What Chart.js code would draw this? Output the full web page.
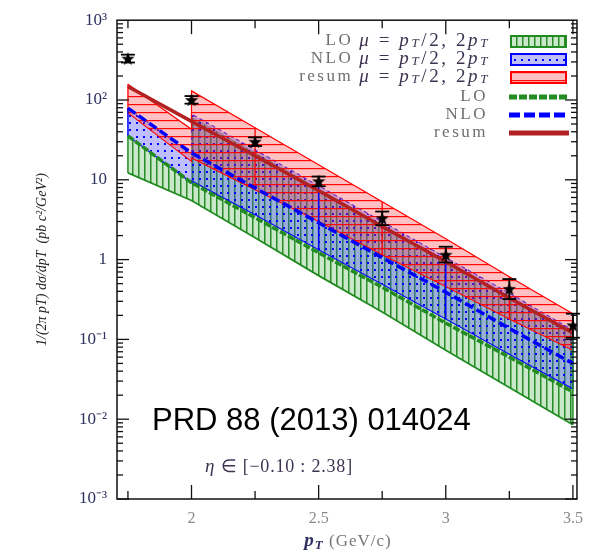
<!DOCTYPE html>
<html>
<head>
<meta charset="utf-8">
<script src="https://cdn.jsdelivr.net/npm/chart.js@4.4.0/dist/chart.umd.min.js"></script>
<style>
body { margin: 0; background: #fff; }
#wrap { width: 593px; height: 558px; }
</style>
</head>
<body>
<div id="wrap"><canvas id="chart" width="593" height="558"></canvas></div>
<script>
// bin edges of the measurement
const binX = [1.75, 2, 2.25, 2.5, 2.75, 3, 3.25, 3.5];
// band edges (2 appears twice: the bands jump there)
const bandX = [1.75, 2, 2, 2.25, 2.5, 2.75, 3, 3.25, 3.5];

// data points with errors
const dataY = [330, 100, 30, 9.6, 3.3, 1.15, 0.43, 0.15];
const dataLow = [295, 90, 26.5, 8.3, 2.7, 0.92, 0.32, 0.105];
const dataHigh = [370, 112, 34, 11, 4.0, 1.45, 0.57, 0.21];

// central curves
const loLine = [35.5, 9.2, 3.35, 1.22, 0.45, 0.16, 0.06, 0.022];
const nloLine = [79, 21.7, 7.9, 2.9, 1.06, 0.39, 0.137, 0.05];
const resumLine = [148, 54, 20, 7.3, 2.6, 0.94, 0.33, 0.12];

// scale bands mu = pT/2, 2pT
const loUp = [35.5, 9.2, 61, 21.8, 7.7, 2.7, 0.97, 0.345, 0.122];
const loDown = [12.2, 5.5, 5.5, 1.88, 0.63, 0.22, 0.073, 0.025, 0.0085];
const nloUp = [79, 21.7, 67, 23.7, 8.4, 3.0, 1.06, 0.38, 0.13];
const nloDown = [35.5, 9.2, 9.7, 3.65, 1.33, 0.49, 0.18, 0.065, 0.024];
const resumUp = [158, 43, 130, 45, 15.4, 5.3, 1.83, 0.61, 0.21];
const resumDown = [69, 17, 18.8, 7.5, 3.0, 1.15, 0.46, 0.18, 0.073];

const xTicks = [2, 2.5, 3, 3.5];
const xMinor = [1.75, 2.25, 2.75, 3.25];
const yTicks = [1e-3, 1e-2, 1e-1, 1, 10, 100, 1000];
const yTickLabels = ['10⁻³', '10⁻²', '10⁻¹', '1', '10', '10²', '10³'];

const ctx = document.getElementById('chart').getContext('2d');
const pts = (xs, ys) => xs.map((x, i) => ({ x: x, y: ys[i] }));

function makePattern(size, bg, draw) {
    const c = document.createElement('canvas');
    c.width = size;
    c.height = size;
    const g = c.getContext('2d');
    g.fillStyle = bg;
    g.fillRect(0, 0, size, size);
    draw(g);
    return ctx.createPattern(c, 'repeat');
}

const greenFill = makePattern(6, 'rgba(40,160,40,0.25)', g => {
    g.fillStyle = 'rgba(30,135,30,0.95)';
    g.fillRect(0, 0, 1.5, 6);
});
const blueFill = makePattern(7, 'rgba(60,60,255,0.33)', g => {
    g.fillStyle = '#0000ff';
    g.fillRect(3, 3, 2, 2);
});
const redFill = makePattern(8, 'rgba(255,50,50,0.3)', g => {
    g.fillStyle = 'rgba(255,0,0,0.95)';
    g.fillRect(0, 0, 8, 1.2);
});

// filled star marker
const star = (function () {
    const c = document.createElement('canvas');
    c.width = 14;
    c.height = 14;
    const g = c.getContext('2d');
    g.fillStyle = '#000';
    g.beginPath();
    for (let i = 0; i < 10; i++) {
        const r = i % 2 ? 2.9 : 7;
        const a = -Math.PI / 2 + i * Math.PI / 5;
        g.lineTo(7 + r * Math.cos(a), 7.5 + r * Math.sin(a));
    }
    g.closePath();
    g.fill();
    return c;
})();

function line(c, x1, y1, x2, y2) {
    c.beginPath();
    c.moveTo(x1, y1);
    c.lineTo(x2, y2);
    c.stroke();
}

function textWidth(c, parts) {
    let w = 0;
    parts.forEach(p => { c.font = p[1]; w += c.measureText(p[0]).width; });
    return w;
}

function runs(c, parts, xLeft, y) {
    let x = xLeft;
    parts.forEach(p => {
        c.font = p[1];
        c.fillStyle = p[2];
        c.fillText(p[0], x, y + (p[3] || 0));
        x += c.measureText(p[0]).width;
    });
}

// vertical bin edges inside the bands
const binEdges = [
    { up: 4, low: 5, idx: [0, 3, 5, 7, 8], color: '#ff0000', width: 1.3 },
    { up: 6, low: 7, idx: [0, 4, 6, 8], color: '#0000ff', width: 1.5 },
    { up: 8, low: 9, idx: [0, 8], color: '#228b22', width: 1.5 }
];

const binLinePlugin = {
    id: 'binLines',
    afterDatasetDraw(chart, args) {
        if (args.index !== 4) return;
        const c = chart.ctx;
        c.save();
        binEdges.forEach(b => {
            const up = chart.getDatasetMeta(b.up).data;
            const low = chart.getDatasetMeta(b.low).data;
            c.strokeStyle = b.color;
            c.lineWidth = b.width;
            b.idx.forEach(i => line(c, up[i].x, up[i].y, low[i].x, low[i].y));
        });
        c.restore();
    }
};

const errorBarPlugin = {
    id: 'errorBars',
    afterDatasetsDraw(chart) {
        const c = chart.ctx;
        const { x, y } = chart.scales;
        c.save();
        c.strokeStyle = '#000';
        c.lineWidth = 1.8;
        binX.forEach((v, i) => {
            const px = x.getPixelForValue(v);
            const y1 = y.getPixelForValue(dataLow[i]);
            const y2 = y.getPixelForValue(dataHigh[i]);
            line(c, px, y1, px, y2);
            line(c, px - 7, y1, px + 7, y1);
            line(c, px - 7, y2, px + 7, y2);
        });
        c.restore();
    }
};

const framePlugin = {
    id: 'frame',
    afterDraw(chart) {
        const c = chart.ctx;
        const a = chart.chartArea;
        const { x, y } = chart.scales;
        c.save();
        c.strokeStyle = '#111';
        c.lineWidth = 1.5;
        c.strokeRect(a.left, a.top, a.right - a.left, a.bottom - a.top);
        c.lineWidth = 1.3;
        xTicks.forEach(v => {
            const px = x.getPixelForValue(v);
            line(c, px, a.bottom, px, a.bottom - 14);
            line(c, px, a.top, px, a.top + 14);
        });
        xMinor.forEach(v => {
            const px = x.getPixelForValue(v);
            line(c, px, a.bottom, px, a.bottom - 8);
            line(c, px, a.top, px, a.top + 8);
        });
        for (let e = -3; e < 3; e++) {
            for (let k = 1; k < 10; k++) {
                const py = y.getPixelForValue(k * Math.pow(10, e));
                const len = k === 1 ? 12 : 6;
                line(c, a.left, py, a.left + len, py);
                line(c, a.right, py, a.right - len, py);
            }
        }

        // legend
        c.textBaseline = 'middle';
        const labelFont = "17px 'Liberation Serif'";
        const mathFont = "italic 19px 'Liberation Serif'";
        const eqFont = "19px 'Liberation Serif'";
        const subFont = "italic 13px 'Liberation Serif'";
        const gray = '#6e6e6e';
        const math = '#3d3350';
        const formula = [
            ['μ', mathFont, math], [' = ', eqFont, math], ['p', mathFont, math], ['T', subFont, math, 3],
            ['/2, 2', eqFont, math], ['p', mathFont, math], ['T', subFont, math, 3]
        ];
        const bandRows = [
            { text: 'LO', y: 41, fill: greenFill, color: '#228b22' },
            { text: 'NLO', y: 59, fill: blueFill, color: '#0000ff' },
            { text: 'resum', y: 77, fill: redFill, color: '#ff0000' }
        ];
        bandRows.forEach(r => {
            c.letterSpacing = '2.6px';
            const fw = textWidth(c, formula);
            runs(c, formula, 490 - fw, r.y);
            c.letterSpacing = '2.5px';
            const lw = textWidth(c, [[r.text, labelFont]]);
            runs(c, [[r.text, labelFont, gray]], 490 - fw - 6 - lw, r.y);
            c.fillStyle = '#fff';
            c.fillRect(511, r.y - 5, 55, 11);
            c.fillStyle = r.fill;
            c.fillRect(511, r.y - 5, 55, 11);
            c.strokeStyle = r.color;
            c.lineWidth = 2;
            c.strokeRect(511, r.y - 5, 55, 11);
        });
        const lineRows = [
            { text: 'LO', y: 97, color: '#228b22', dash: [8, 2] },
            { text: 'NLO', y: 115, color: '#0000ff', dash: [11, 4] },
            { text: 'resum', y: 133, color: '#b22222', dash: [] }
        ];
        lineRows.forEach(r => {
            c.letterSpacing = '2.5px';
            const lw = textWidth(c, [[r.text, labelFont]]);
            runs(c, [[r.text, labelFont, gray]], 488 - lw, r.y);
            c.strokeStyle = r.color;
            c.lineWidth = 5;
            c.setLineDash(r.dash);
            line(c, 509, r.y, 569, r.y);
            c.setLineDash([]);
        });

        // annotations
        c.letterSpacing = '0px';
        c.textBaseline = 'alphabetic';
        c.fillStyle = '#000';
        c.font = "31px 'Liberation Sans'";
        c.fillText('PRD 88 (2013) 014024', 152, 430);
        c.letterSpacing = '0.8px';
        runs(c, [['η', mathFont, math], [' ∈ [−0.10 : 2.38]', "18px 'Liberation Serif'", math]], 205, 472);

        // x axis title
        c.letterSpacing = '1px';
        const xt = [
            ['p', "italic bold 19px 'Liberation Serif'", '#2f3060'], ['T', "italic bold 13px 'Liberation Serif'", '#2f3060', 3],
            [' (GeV/c)', "17px 'Liberation Serif'", '#777']
        ];
        runs(c, xt, 348 - textWidth(c, xt) / 2, 546);
        c.restore();
    }
};

new Chart(ctx, {
    type: 'line',
    data: {
        datasets: [
            { label: 'data', data: pts(binX, dataY), showLine: false, pointStyle: star, pointRadius: 7, borderColor: '#000', backgroundColor: '#000' },
            { label: 'resum', data: pts(binX, resumLine), borderColor: '#b22222', borderWidth: 3.5, pointRadius: 0, fill: false },
            { label: 'NLO', data: pts(binX, nloLine), borderColor: '#0000ff', borderWidth: 3.5, borderDash: [9, 4], pointRadius: 0, fill: false },
            { label: 'LO', data: pts(binX, loLine), borderColor: '#228b22', borderWidth: 3.5, borderDash: [7, 2], pointRadius: 0, fill: false },
            { label: 'resum band', data: pts(bandX, resumUp), borderColor: '#ff0000', borderWidth: 1.2, backgroundColor: redFill, fill: 5, pointRadius: 0 },
            { label: 'resum band low', data: pts(bandX, resumDown), borderColor: '#ff0000', borderWidth: 1.2, pointRadius: 0, fill: false },
            { label: 'NLO band', data: pts(bandX, nloUp), borderColor: '#3030ff', borderWidth: 1.2, borderDash: [4, 3], backgroundColor: blueFill, fill: 7, pointRadius: 0 },
            { label: 'NLO band low', data: pts(bandX, nloDown), borderColor: '#0000ff', borderWidth: 1.2, pointRadius: 0, fill: false },
            { label: 'LO band', data: pts(bandX, loUp), borderColor: 'rgba(34,139,34,0.5)', borderWidth: 1, backgroundColor: greenFill, fill: 9, pointRadius: 0 },
            { label: 'LO band low', data: pts(bandX, loDown), borderColor: '#228b22', borderWidth: 1.8, pointRadius: 0, fill: false }
        ]
    },
    options: {
        responsive: false,
        animation: false,
        devicePixelRatio: 1,
        layout: { padding: { left: 30, right: 10, top: 19, bottom: 0 } },
        plugins: {
            legend: { display: false },
            tooltip: { enabled: false }
        },
        scales: {
            x: {
                type: 'linear',
                min: 1.707,
                max: 3.516,
                afterBuildTicks: s => { s.ticks = xTicks.map(v => ({ value: v })); },
                afterFit: s => { s.height = 59; },
                grid: { display: false, drawTicks: false },
                border: { display: false },
                ticks: {
                    padding: 10,
                    color: '#8a8a8a',
                    font: { family: 'Liberation Serif', size: 16 },
                    callback: v => String(v)
                }
            },
            y: {
                type: 'logarithmic',
                min: 1e-3,
                max: 1e3,
                afterBuildTicks: s => { s.ticks = yTicks.map(v => ({ value: v })); },
                afterFit: s => { s.width = 87; },
                grid: { display: false, drawTicks: false },
                border: { display: false },
                ticks: {
                    padding: 10,
                    color: '#2f3060',
                    font: { family: 'Liberation Serif', size: 17 },
                    callback: (v, i) => yTickLabels[i]
                },
                title: {
                    display: true,
                    text: '1/(2π pT) dσ/dpT  (pb c²/GeV²)',
                    color: '#222',
                    font: { family: 'Liberation Serif', size: 14, style: 'italic' },
                    padding: 4
                }
            }
        }
    },
    plugins: [binLinePlugin, errorBarPlugin, framePlugin]
});
</script>
</body>
</html>
